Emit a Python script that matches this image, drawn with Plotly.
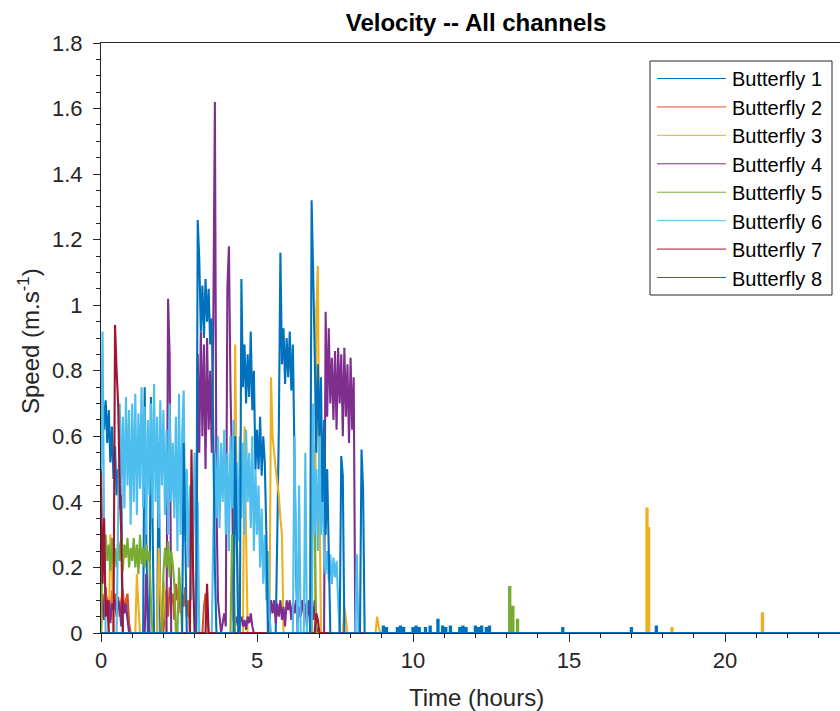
import numpy as np
import plotly.graph_objects as go

# ---------------------------------------------------------------------------
# Speed records, sampled every 0.05 h (3 min) for the first 9 hours.
# Each row below covers half an hour (10 samples).
# ---------------------------------------------------------------------------
STEP_H = 0.05
N_GRID = 180
t_grid = np.round(np.arange(N_GRID) * STEP_H, 2)

b1_v = [
    0.48, 0.74, 0.62, 0.71, 0.58, 0.68, 0.52, 0.63, 0.47, 0.57,
    0.42, 0.50, 0.38, 0.45, 0, 0, 0, 0, 0, 0,
    0, 0, 0, 0, 0, 0, 0, 0, 0.75, 0.30,
    0, 0, 0.72, 0.35, 0, 0, 0, 0.58, 0, 0,
    0, 0, 0, 0, 0, 0, 0, 0, 0, 0,
    0, 0, 0, 0, 0, 0, 0, 0, 0, 0,
    0, 0, 0, 0, 0, 0, 0, 0, 0, 0,
    0, 0, 0, 0, 0, 0, 0, 0, 0, 0,
    0, 0, 0, 0, 0, 0, 0, 0, 0, 0,
    0, 0, 0, 0, 0, 0, 0, 0, 0, 0,
    0, 0, 0, 0, 0, 0, 0, 0, 0, 0,
    0, 0, 0, 0.30, 0.62, 1.16, 0.82, 0.93, 0.76, 0.90,
    0.78, 0.92, 0.74, 0.88, 0.55, 0.20, 0, 0, 0, 0,
    0, 0, 0, 0, 0, 0, 0, 0, 0, 0,
    0, 0, 0, 0, 0, 0, 0, 0, 0, 0,
    0, 0, 0, 0, 0, 0, 0, 0, 0, 0,
    0, 0, 0, 0, 0, 0, 0, 0, 0, 0,
    0, 0, 0, 0, 0, 0, 0, 0, 0, 0,
]
b2_v = [
    0, 0.12, 0.08, 0.14, 0.06, 0.11, 0.04, 0.13, 0.09, 0.12,
    0.07, 0.11, 0.05, 0.10, 0.13, 0.06, 0.10, 0.12, 0.03, 0,
    0, 0, 0, 0, 0, 0, 0, 0, 0, 0,
    0, 0, 0, 0, 0, 0, 0, 0, 0, 0,
    0, 0.08, 0.13, 0.05, 0.14, 0.09, 0.12, 0.04, 0.15, 0.10,
    0.13, 0.06, 0.12, 0.08, 0.14, 0.05, 0.10, 0, 0, 0,
    0, 0, 0, 0, 0, 0, 0.08, 0.12, 0.05, 0,
    0, 0, 0, 0, 0, 0, 0, 0, 0, 0,
    0, 0, 0, 0, 0, 0, 0, 0, 0, 0,
    0, 0, 0, 0, 0, 0, 0, 0, 0, 0,
    0, 0, 0, 0, 0, 0, 0, 0, 0, 0,
    0, 0, 0, 0, 0, 0, 0, 0, 0, 0,
    0, 0, 0, 0, 0, 0, 0, 0, 0, 0,
    0, 0, 0, 0, 0, 0, 0, 0, 0, 0,
    0, 0, 0, 0, 0, 0, 0, 0, 0, 0,
    0, 0, 0, 0, 0, 0, 0, 0, 0, 0,
    0, 0, 0, 0, 0, 0, 0, 0, 0, 0,
    0, 0, 0, 0, 0, 0, 0, 0, 0, 0,
]
b3_v = [
    0, 0, 0, 0, 0, 0, 0.30, 0.22, 0, 0,
    0, 0, 0, 0, 0, 0, 0, 0, 0, 0,
    0, 0, 0, 0.18, 0.08, 0, 0, 0, 0, 0,
    0, 0, 0, 0, 0, 0, 0, 0.26, 0.12, 0,
    0.16, 0.10, 0, 0, 0, 0, 0, 0, 0, 0,
    0, 0, 0, 0, 0, 0, 0, 0, 0, 0,
    0, 0, 0, 0, 0, 0, 0, 0, 0, 0,
    0, 0, 0, 0, 0, 0, 0, 0, 0, 0,
    0, 0, 0, 0, 0, 0, 0.88, 0.40, 0, 0,
    0, 0, 0.63, 0.30, 0, 0, 0, 0, 0, 0,
    0, 0, 0, 0, 0, 0, 0, 0, 0, 0.78,
    0.60, 0.55, 0.50, 0.46, 0.42, 0.35, 0.30, 0, 0, 0,
    0, 0, 0, 0, 0, 0, 0, 0, 0, 0,
    0, 0, 0, 0, 0, 0, 0, 0, 0.98, 1.12,
    0.45, 0, 0, 0, 0, 0, 0, 0, 0, 0,
    0, 0, 0, 0, 0, 0, 0.08, 0.04, 0, 0,
    0, 0, 0, 0, 0, 0, 0, 0, 0, 0,
    0, 0, 0, 0, 0, 0, 0, 0.05, 0.02, 0,
]
b4_v = [
    0.08, 0.10, 0.04, 0.09, 0.06, 0.10, 0.03, 0.09, 0.07, 0.10,
    0.05, 0.10, 0.08, 0.02, 0.10, 0.06, 0.09, 0.04, 0, 0,
    0, 0, 0, 0, 0, 0, 0, 0, 0, 0.18,
    0.05, 0, 0, 0, 0, 0, 0, 0, 0, 0,
    0, 0, 0, 1.02, 0.85, 0, 0, 0, 0, 0,
    0, 0, 0, 0, 0, 0, 0, 0, 0, 0,
    0, 0, 0.85, 0.55, 0.92, 0.60, 0.88, 0.50, 0.90, 0.62,
    0.80, 0.55, 0.95, 1.62, 0.40, 0.10, 0.05, 0, 0.03, 0.06,
    0.02, 1.05, 1.18, 0.75, 0.50, 0.04, 0.02, 0.05, 0.03, 0.04,
    0.05, 0.02, 0.04, 0.01, 0.05, 0.03, 0.06, 0.02, 0, 0,
    0, 0, 0, 0, 0, 0, 0, 0, 0.04, 0.10,
    0.06, 0.10, 0.03, 0.09, 0.05, 0.10, 0.04, 0.08, 0.02, 0.10,
    0.07, 0.10, 0.04, 0.09, 0.06, 0.10, 0.03, 0.08, 0.05, 0.10,
    0.06, 0.09, 0.02, 0.10, 0.05, 0.08, 0.04, 0.10, 0.02, 0,
    0, 0, 0, 0, 0.98, 0.66, 0.93, 0.70, 0.84, 0.65,
    0.86, 0.62, 0.87, 0.70, 0.85, 0.60, 0.87, 0.66, 0.82, 0.58,
    0.84, 0.62, 0.78, 0, 0, 0, 0, 0, 0, 0,
    0, 0, 0, 0, 0, 0, 0, 0, 0, 0,
]
b5_v = [
    0, 0.28, 0.20, 0.30, 0.22, 0.27, 0.19, 0.29, 0.21, 0.26,
    0.20, 0.28, 0.22, 0.30, 0.19, 0.27, 0.23, 0.29, 0.20, 0.26,
    0.22, 0.29, 0.20, 0.27, 0.18, 0.30, 0.21, 0.26, 0.20, 0.27,
    0.22, 0.25, 0.10, 0, 0, 0, 0, 0, 0, 0,
    0.18, 0.26, 0.20, 0.28, 0.17, 0.25, 0.21, 0.15, 0, 0,
    0.20, 0.12, 0, 0, 0, 0, 0, 0, 0, 0,
    0, 0, 0, 0, 0, 0, 0, 0, 0, 0,
    0, 0, 0, 0, 0, 0, 0, 0, 0, 0,
    0, 0, 0, 0, 0.30, 0.22, 0, 0, 0, 0,
    0, 0, 0, 0, 0, 0, 0, 0, 0, 0,
    0, 0, 0, 0, 0, 0, 0, 0, 0, 0,
    0, 0, 0, 0, 0, 0, 0, 0, 0, 0,
    0, 0, 0, 0, 0, 0, 0, 0, 0, 0,
    0, 0, 0, 0, 0, 0, 0.58, 0.35, 0, 0,
    0, 0, 0, 0, 0, 0, 0, 0, 0, 0,
    0, 0, 0, 0, 0, 0, 0, 0, 0, 0,
    0, 0, 0, 0, 0, 0, 0, 0, 0, 0,
    0, 0, 0, 0, 0, 0, 0, 0, 0, 0,
]
b6_v = [
    0.50, 0.92, 0.30, 0, 0, 0, 0, 0, 0, 0,
    0, 0.35, 0.70, 0.42, 0.66, 0.38, 0.72, 0.45, 0.68, 0.33,
    0.70, 0.40, 0.73, 0.36, 0.67, 0.44, 0.75, 0.38, 0.69, 0.30,
    0.65, 0.42, 0.70, 0.35, 0.76, 0.40, 0.66, 0.32, 0.71, 0.45,
    0.68, 0.36, 0.62, 0.30, 0.70, 0.40, 0.58, 0.35, 0.66, 0.25,
    0.73, 0.30, 0.60, 0.74, 0.28, 0.50, 0.20, 0.45, 0.10, 0.30,
    0.55, 0.20, 0.40, 0, 0, 0, 0, 0, 0, 0,
    0, 0, 0.30, 0.55, 0.35, 0.60, 0.32, 0.58, 0.40, 0.62,
    0.30, 0.55, 0.25, 0.60, 0.38, 0.65, 0.30, 0.52, 0.28, 0.60,
    0.35, 0.58, 0.30, 0.62, 0.40, 0.55, 0.32, 0.60, 0.25, 0.50,
    0.30, 0.45, 0.20, 0.38, 0.15, 0.30, 0.10, 0.25, 0.05, 0,
    0, 0, 0, 0, 0, 0, 0, 0, 0, 0,
    0, 0, 0, 0, 0.60, 0.25, 0, 0.45, 0, 0,
    0, 0.55, 0, 0, 0, 0, 0.70, 0.30, 0.50, 0.25,
    0.60, 0.30, 0.50, 0.22, 0.18, 0.25, 0.16, 0.24, 0.15, 0.23,
    0.17, 0.22, 0.10, 0, 0, 0, 0, 0, 0, 0,
    0, 0, 0, 0, 0.24, 0, 0, 0, 0, 0,
    0, 0, 0, 0, 0, 0, 0, 0, 0, 0,
]
b7_v = [
    0.49, 0.15, 0.35, 0.05, 0.10, 0, 0, 0, 0, 0.94,
    0.80, 0.70, 0.45, 0.30, 0, 0, 0, 0, 0, 0,
    0, 0, 0, 0, 0, 0, 0, 0, 0, 0,
    0, 0, 0, 0, 0, 0, 0, 0, 0, 0,
    0, 0, 0, 0, 0, 0, 0, 0, 0, 0,
    0, 0, 0, 0, 0, 0, 0, 0, 0.56, 0.20,
    0, 0, 0, 0, 0, 0, 0, 0, 0.15, 0,
    0, 0, 0, 0, 0, 0, 0, 0, 0, 0,
    0, 0, 0, 0, 0, 0, 0, 0, 0, 0,
    0, 0, 0, 0, 0, 0, 0, 0, 0, 0,
    0, 0, 0, 0, 0, 0, 0, 0, 0, 0,
    0, 0, 0, 0, 0, 0, 0, 0, 0, 0,
    0, 0, 0, 0, 0, 0, 0, 0, 0, 0,
    0, 0, 0, 0, 0, 0, 0, 0, 0.06, 0.04,
    0, 0, 0, 0, 0, 0, 0, 0, 0, 0,
    0, 0, 0, 0, 0, 0, 0, 0, 0, 0,
    0, 0, 0, 0, 0, 0, 0, 0, 0, 0,
    0, 0, 0, 0, 0, 0, 0, 0, 0, 0,
]
b8_v = [
    0, 0, 0, 0, 0, 0, 0, 0, 0, 0,
    0, 0, 0, 0, 0, 0, 0, 0, 0, 0,
    0, 0, 0, 0, 0, 0, 0, 0, 0, 0,
    0, 0, 0, 0, 0, 0, 0, 0, 0, 0,
    0, 0, 0, 0, 0, 0, 0, 0, 0, 0,
    0, 0, 0, 0.58, 0.30, 0, 0, 0, 0, 0,
    0, 0, 1.26, 1.14, 0.92, 1.06, 0.90, 1.08, 0.95, 1.05,
    0.88, 0.96, 0.60, 0.20, 0, 0, 0, 0, 0, 0,
    0, 0, 0, 0, 0, 0, 0.60, 0.30, 0, 0,
    1.08, 0.75, 0.88, 0.70, 0.85, 0.72, 0.92, 0.68, 0.80, 0.50,
    0.62, 0.50, 0.66, 0.48, 0.60, 0.52, 0.30, 0, 0, 0,
    0, 0, 0, 0, 0, 0, 0, 0, 0, 0,
    0, 0, 0, 0, 0, 0, 0, 0, 0, 0,
    0, 0, 0, 0, 0, 1.32, 1.10, 0.85, 0.55, 0.82,
    0.60, 0.78, 0.40, 0.65, 0.30, 0.50, 0.25, 0, 0, 0,
    0, 0, 0, 0, 0.54, 0.48, 0, 0, 0, 0,
    0, 0, 0, 0, 0, 0, 0, 0.56, 0.44, 0,
    0, 0, 0, 0, 0, 0, 0, 0, 0, 0,
]

# Isolated short movements after 9 h: (time in hours, speed)
b1_events_t = [9.05, 9.15, 9.5, 9.6, 9.7, 10.0, 10.1, 10.2, 10.4, 10.55, 10.8,
               10.95, 11.05, 11.2, 11.5, 11.6, 11.7, 12.0, 12.1, 12.2, 12.35,
               12.45, 14.8, 17.0, 17.8]
b1_events_v = [0.02, 0.015, 0.015, 0.02, 0.015, 0.015, 0.02, 0.015, 0.015, 0.02,
               0.04, 0.02, 0.015, 0.02, 0.015, 0.02, 0.015, 0.02, 0.015, 0.02,
               0.015, 0.02, 0.015, 0.015, 0.02]
b3_events_t = [17.5, 17.55, 18.3, 21.2]
b3_events_v = [0.38, 0.32, 0.015, 0.06]
b5_events_t = [13.1, 13.15, 13.2, 13.35]
b5_events_v = [0.14, 0.05, 0.08, 0.04]

END_H = 24.0

names = ["Butterfly 1", "Butterfly 2", "Butterfly 3", "Butterfly 4",
         "Butterfly 5", "Butterfly 6", "Butterfly 7", "Butterfly 8"]
colors = ["#0072BD", "#D95319", "#EDB120", "#7E2F8E",
          "#77AC30", "#4DBEEE", "#A2142F", "#0072BD"]

grids = [b1_v, b2_v, b3_v, b4_v, b5_v, b6_v, b7_v, b8_v]
events = [(b1_events_t, b1_events_v), ([], []), (b3_events_t, b3_events_v),
          ([], []), (b5_events_t, b5_events_v), ([], []), ([], []), ([], [])]

x_ticks = [0, 5, 10, 15, 20]
y_ticks = [0, 0.2, 0.4, 0.6, 0.8, 1.0, 1.2, 1.4, 1.6, 1.8]
y_ticktext = ["0", "0.2", "0.4", "0.6", "0.8", "1", "1.2", "1.4", "1.6", "1.8"]


def build_series(grid_vals, ev_t, ev_v, half_width=0.02):
    """Join the regular samples with the short isolated bursts that follow."""
    assert len(grid_vals) == N_GRID
    t = list(t_grid)
    v = list(grid_vals)
    for et, ev in sorted(zip(ev_t, ev_v)):
        t += [et - half_width, et - half_width, et + half_width, et + half_width]
        v += [0, ev, ev, 0]
    t.append(END_H)
    v.append(0)
    return t, v


fig = go.Figure()
for name, col, g, (et, ev) in zip(names, colors, grids, events):
    tt, vv = build_series(g, et, ev)
    fig.add_trace(go.Scatter(x=tt, y=vv, mode="lines", name=name,
                             line=dict(color=col, width=2.1, simplify=False),
                             showlegend=False))

# Plot area geometry (pixels)
W, H = 840, 711
PL, PT = 101, 43
PW, PH = 739, 590
PX_PER_H = 31.2
AX = "#262626"
FONT = "Liberation Sans, Arial, Helvetica, sans-serif"


def px(x):
    return (x - PL) / PW


def py(y):
    return (PT + PH - y) / PH


fig.update_layout(
    width=W, height=H,
    margin=dict(l=PL, r=W - PL - PW, t=PT, b=H - PT - PH),
    plot_bgcolor="white", paper_bgcolor="white",
    font=dict(family=FONT, color=AX),
    showlegend=False,
    title=dict(text="<b>Velocity -- All channels</b>", font=dict(size=24, color="#000000"),
               x=px(476), xref="paper", xanchor="center",
               y=1 - 23 / H, yref="container", yanchor="middle"),
)

fig.update_xaxes(
    range=[0, PW / PX_PER_H], tickvals=x_ticks, ticktext=[str(v) for v in x_ticks],
    ticks="outside", ticklen=8, tickwidth=1, tickcolor=AX,
    showline=True, linecolor=AX, linewidth=1, mirror=True,
    showgrid=False, zeroline=False, layer="below traces",
    tickfont=dict(size=22, color=AX, family=FONT),
    minor=dict(dtick=1, ticks="outside", ticklen=4, tickcolor=AX, showgrid=False),
)
fig.update_yaxes(
    range=[0, 1.8], tickvals=y_ticks, ticktext=y_ticktext,
    ticks="outside", ticklen=7, tickwidth=1, tickcolor=AX,
    showline=True, linecolor=AX, linewidth=1,
    showgrid=False, zeroline=False, layer="below traces",
    tickfont=dict(size=22, color=AX, family=FONT),
    ticklabelstandoff=6,
    minor=dict(dtick=0.05, ticks="outside", ticklen=4, tickcolor=AX, showgrid=False),
)

annotations = [
    dict(text="Time (hours)", x=px(476), y=py(697), xref="paper", yref="paper",
         xanchor="center", yanchor="middle", showarrow=False,
         font=dict(size=24, color=AX, family=FONT)),
    dict(text="Speed (m.s<sup>-1</sup>)", x=px(29), y=py(341), xref="paper", yref="paper",
         xanchor="center", yanchor="middle", showarrow=False, textangle=-90,
         font=dict(size=24, color=AX, family=FONT)),
]

# Legend box drawn as shapes + labels
LEG_X0, LEG_X1, LEG_Y0, LEG_Y1 = 650, 832, 61, 295
ROW0, ROW_DY = 78.5, 28.43
LINE_X0, LINE_X1, TEXT_X = 657, 726, 730
shapes = [dict(type="rect", xref="paper", yref="paper",
               x0=px(LEG_X0), x1=px(LEG_X1), y0=py(LEG_Y1), y1=py(LEG_Y0),
               line=dict(color=AX, width=1), fillcolor="white", layer="above")]
for i, (name, col) in enumerate(zip(names, colors)):
    yc = ROW0 + ROW_DY * i
    shapes.append(dict(type="line", xref="paper", yref="paper",
                       x0=px(LINE_X0), x1=px(LINE_X1), y0=py(yc), y1=py(yc),
                       line=dict(color=col, width=1), layer="above"))
    annotations.append(dict(text=name, x=px(TEXT_X), y=py(yc + 1), xref="paper", yref="paper",
                            xanchor="left", yanchor="middle", showarrow=False,
                            font=dict(size=20, color="#000000", family=FONT)))

fig.update_layout(shapes=shapes, annotations=annotations)

fig.write_html("out.html")
